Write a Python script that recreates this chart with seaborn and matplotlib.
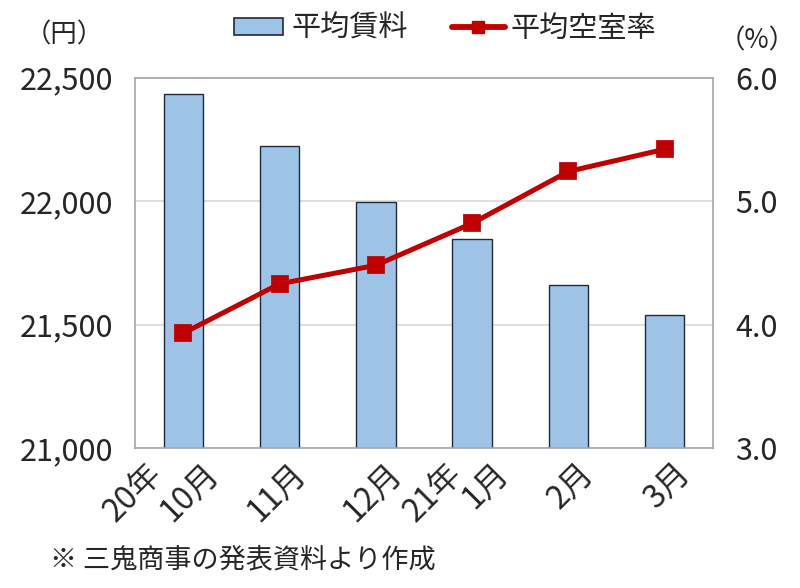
import pandas as pd
import seaborn as sns
import matplotlib.pyplot as plt
import matplotlib.patches as mpatches
from matplotlib.transforms import ScaledTranslation
from matplotlib.legend_handler import HandlerPatch

# --- Data ---
months = ["10月", "11月", "12月", "1月", "2月", "3月"]
years = ["20年", "", "", "21年", "", ""]
avg_rent = [22435, 22222, 21995, 21847, 21661, 21540]   # 円
vacancy_rate = [3.93, 4.33, 4.48, 4.82, 5.24, 5.42]   # %

df = pd.DataFrame({"month": months, "rent": avg_rent, "vacancy": vacancy_rate})

BAR_COLOR = "#9DC3E6"
BAR_EDGE = "#1F2A36"
LINE_COLOR = "#C00000"

sns.set_style("white")
plt.rcParams['font.family'] = ['Noto Sans CJK JP', 'DejaVu Sans']

fig = plt.figure(figsize=(8, 5.88), dpi=100)
ax = fig.add_axes([0.169, 0.238, 0.722, 0.63])

# --- Bars: average rent ---
sns.barplot(data=df, x="month", y="rent", ax=ax, color=BAR_COLOR,
            edgecolor=BAR_EDGE, linewidth=1.0, width=0.41, saturation=1,
            zorder=2)
ax.set_ylim(21000, 22500)
ax.set_yticks([21000, 21500, 22000, 22500])
ax.set_yticklabels(["21,000", "21,500", "22,000", "22,500"])
ax.yaxis.grid(True, color="#D9D9D9", linewidth=1.2, zorder=0)
ax.set_axisbelow(True)
ax.set_xlabel("")
ax.set_ylabel("")
ax.tick_params(axis="y", labelsize=22, length=0, pad=16)
ax.tick_params(axis="x", length=0, labelbottom=False)
for s in ax.spines.values():
    s.set_color("#A6A6A6")
    s.set_linewidth(1.2)

# rotated category labels (month, plus year where it changes)
base = ax.get_xaxis_transform()
for i, (m, y) in enumerate(zip(months, years)):
    shift = 10 if y else 0
    ax.text(i, 0, m, fontsize=23, rotation=45, rotation_mode="anchor",
            ha="right", va="top",
            transform=base + ScaledTranslation((shift + 9) / 100, -9 / 100,
                                               fig.dpi_scale_trans))
    if y:
        back = 57 if len(m) > 2 else 45
        ax.text(i, 0, y, fontsize=23, rotation=45, rotation_mode="anchor",
                ha="right", va="top",
                transform=base + ScaledTranslation((shift + 9 - back) / 100,
                                                   -9 / 100, fig.dpi_scale_trans))

# --- Line: average vacancy rate ---
ax2 = ax.twinx()
sns.pointplot(data=df, x="month", y="vacancy", ax=ax2, color=LINE_COLOR,
              markers="s", markersize=10, linewidth=3.6)
ax2.set_ylim(3.0, 6.0)
ax2.set_yticks([3.0, 4.0, 5.0, 6.0])
ax2.set_yticklabels(["3.0", "4.0", "5.0", "6.0"])
ax2.set_ylabel("")
ax2.tick_params(axis="y", labelsize=22, length=0, pad=16)
for s in ax2.spines.values():
    s.set_visible(False)
ax2.grid(False)


# --- Legend ---
def flat_box(legend, orig_handle, xdescent, ydescent, width, height, fontsize):
    return mpatches.Rectangle((xdescent, ydescent + height * 0.1),
                              width * 0.95, height * 0.8)


rent_handle = mpatches.Patch(facecolor=BAR_COLOR, edgecolor=BAR_EDGE,
                             linewidth=1.2, label="平均賃料")
vac_handle = plt.Line2D([], [], color=LINE_COLOR, linewidth=4.2, marker="s",
                        markersize=9, label="平均空室率")
fig.legend(handles=[rent_handle, vac_handle], loc="center",
           bbox_to_anchor=(0.556, 0.951), ncol=2, frameon=False, fontsize=21,
           handlelength=1.8, handletextpad=0.2, columnspacing=1.5,
           handler_map={mpatches.Patch: HandlerPatch(patch_func=flat_box)})

# --- Axis unit labels and note ---
fig.text(0.08, 0.94, "（円）", fontsize=19, ha="center", va="center")
fig.text(0.946, 0.93, "（%）", fontsize=19, ha="center", va="center")
fig.text(0.062, 0.047, "※ 三鬼商事の発表資料より作成", fontsize=19.5,
         ha="left", va="center")

fig.savefig("out.png", dpi=100)
